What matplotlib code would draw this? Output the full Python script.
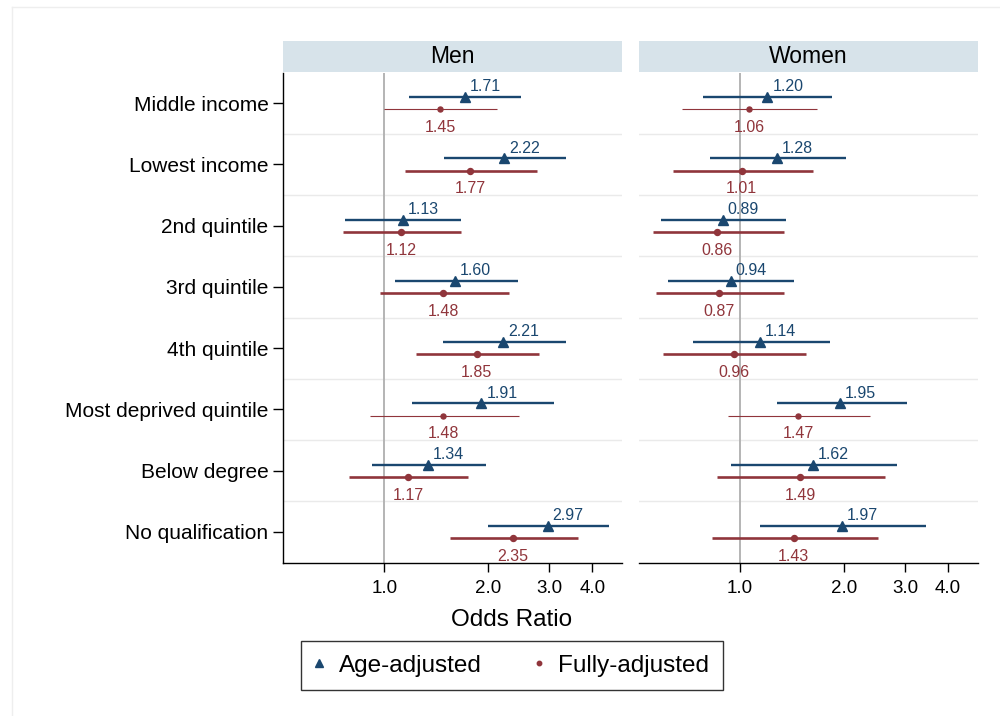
import matplotlib.pyplot as plt
import numpy as np
from matplotlib.lines import Line2D
from matplotlib.ticker import FixedLocator, NullLocator

plt.rcParams['font.family'] = ['Liberation Sans', 'DejaVu Sans']

categories = ["Middle income", "Lowest income", "2nd quintile", "3rd quintile",
              "4th quintile", "Most deprived quintile", "Below degree",
              "No qualification"]
panels = ["Men", "Women"]

# Age-adjusted odds ratios with 95% CI
men_age_or = [1.71, 2.22, 1.13, 1.60, 2.21, 1.91, 1.34, 2.97]
men_age_lo = [1.18, 1.49, 0.77, 1.07, 1.48, 1.20, 0.92, 2.00]
men_age_hi = [2.49, 3.36, 1.67, 2.43, 3.35, 3.09, 1.97, 4.47]
women_age_or = [1.20, 1.28, 0.89, 0.94, 1.14, 1.95, 1.62, 1.97]
women_age_lo = [0.78, 0.82, 0.59, 0.62, 0.73, 1.28, 0.94, 1.14]
women_age_hi = [1.85, 2.03, 1.36, 1.43, 1.82, 3.04, 2.84, 3.45]

# Fully-adjusted odds ratios with 95% CI
men_full_or = [1.45, 1.77, 1.12, 1.48, 1.85, 1.48, 1.17, 2.35]
men_full_lo = [1.00, 1.15, 0.76, 0.97, 1.23, 0.905, 0.79, 1.55]
men_full_hi = [2.12, 2.77, 1.67, 2.30, 2.80, 2.45, 1.75, 3.63]
women_full_or = [1.06, 1.01, 0.86, 0.87, 0.96, 1.47, 1.49, 1.43]
women_full_lo = [0.68, 0.64, 0.56, 0.57, 0.60, 0.92, 0.86, 0.83]
women_full_hi = [1.67, 1.63, 1.34, 1.34, 1.55, 2.38, 2.63, 2.51]

x_ticks = [1.0, 2.0, 3.0, 4.0]
x_tick_labels = ["1.0", "2.0", "3.0", "4.0"]

# rows drawn with a thinner fully-adjusted line
thin_rows = ["Middle income", "Most deprived quintile"]

BLUE = "#1a476f"
RED = "#90353b"

data = {
    "Men": (men_age_or, men_age_lo, men_age_hi,
            men_full_or, men_full_lo, men_full_hi),
    "Women": (women_age_or, women_age_lo, women_age_hi,
              women_full_or, women_full_lo, women_full_hi),
}

fig = plt.figure(figsize=(10, 7.16), dpi=100)
W, H = 1000, 716


def fig_box(x0, y0, x1, y1):
    return [x0 / W, 1 - y1 / H, (x1 - x0) / W, (y1 - y0) / H]


# faint graph region outline
fig.add_artist(Line2D([12 / W, 12 / W], [0, 1 - 7 / H], color="#eeeeee", lw=1))
fig.add_artist(Line2D([12 / W, 1], [1 - 7 / H, 1 - 7 / H], color="#eeeeee", lw=1))

ypos = np.arange(len(categories))
off = 0.1
boxes = {"Men": (283, 622), "Women": (638.5, 978)}

for name in panels:
    x0, x1 = boxes[name]
    ax = fig.add_axes(fig_box(x0, 72.5, x1, 562.5))
    strip = fig.add_axes(fig_box(x0, 41, x1, 72))
    strip.set_facecolor("#d7e3ea")
    strip.set_xticks([])
    strip.set_yticks([])
    for s in strip.spines.values():
        s.set_visible(False)
    strip.text(0.5, 0.5, name, ha="center", va="center", fontsize=16.5,
               transform=strip.transAxes)

    a_or, a_lo, a_hi, f_or, f_lo, f_hi = data[name]

    ax.set_xscale("log")
    ax.set_xlim(0.508, 4.88)
    ax.set_ylim(len(categories) - 0.5, -0.5)

    # separators between rows
    for y in ypos[:-1] + 0.5:
        ax.axhline(y, color="#eaeaea", lw=1, zorder=0)
    ax.axvline(1.0, color="#b4b4b4", lw=1.4, zorder=1)

    for i, cat in enumerate(categories):
        ya = ypos[i] - off
        yf = ypos[i] + off
        ax.plot([a_lo[i], a_hi[i]], [ya, ya], color=BLUE, lw=1.7, zorder=3,
                solid_capstyle="butt")
        ax.plot(a_or[i], ya, marker="^", color=BLUE, ms=6.5, zorder=4)
        thin = cat in thin_rows
        ax.plot([f_lo[i], f_hi[i]], [yf, yf], color=RED,
                lw=0.8 if thin else 1.9, zorder=3, solid_capstyle="butt")
        ax.plot(f_or[i], yf, marker="o", color=RED, ms=3.6 if thin else 4.3,
                zorder=4)
        ax.annotate(f"{a_or[i]:.2f}", (a_or[i], ya), xytext=(3.5, 4),
                    textcoords="offset points", ha="left", va="baseline",
                    color=BLUE, fontsize=11.5)
        ax.annotate(f"{f_or[i]:.2f}", (f_or[i], yf), xytext=(0, -16.5),
                    textcoords="offset points", ha="center", va="baseline",
                    color=RED, fontsize=11.5)

    ax.xaxis.set_major_locator(FixedLocator(x_ticks))
    ax.xaxis.set_minor_locator(NullLocator())
    ax.set_xticklabels(x_tick_labels)
    ax.tick_params(axis="x", length=6.5, width=1, pad=6, labelsize=13.5)

    for s in ["top", "right"]:
        ax.spines[s].set_visible(False)
    ax.spines["bottom"].set_linewidth(1)

    if name == "Men":
        ax.set_yticks(ypos)
        ax.set_yticklabels(categories)
        ax.tick_params(axis="y", length=7.5, width=1, pad=3, labelsize=15)
        ax.spines["left"].set_linewidth(1)
    else:
        ax.set_yticks([])
        ax.spines["left"].set_visible(False)

fig.text(0.512, 1 - 620 / H, "Odds Ratio", ha="center", va="center",
         fontsize=17.5)

handles = [
    Line2D([], [], ls="none", marker="^", color=BLUE, ms=5.5),
    Line2D([], [], ls="none", marker="o", color=RED, ms=3.2),
]
leg = fig.legend(handles, ["Age-adjusted", "Fully-adjusted"], loc="center",
                 bbox_to_anchor=(0.512, 1 - 665.5 / H), ncol=2,
                 fontsize=17.5, frameon=True, fancybox=False,
                 handlelength=0.4, handletextpad=0.6, columnspacing=2.15,
                 borderpad=0.55)
leg.get_frame().set_edgecolor("black")
leg.get_frame().set_linewidth(1)

fig.savefig("out.png", dpi=100, facecolor="white")
